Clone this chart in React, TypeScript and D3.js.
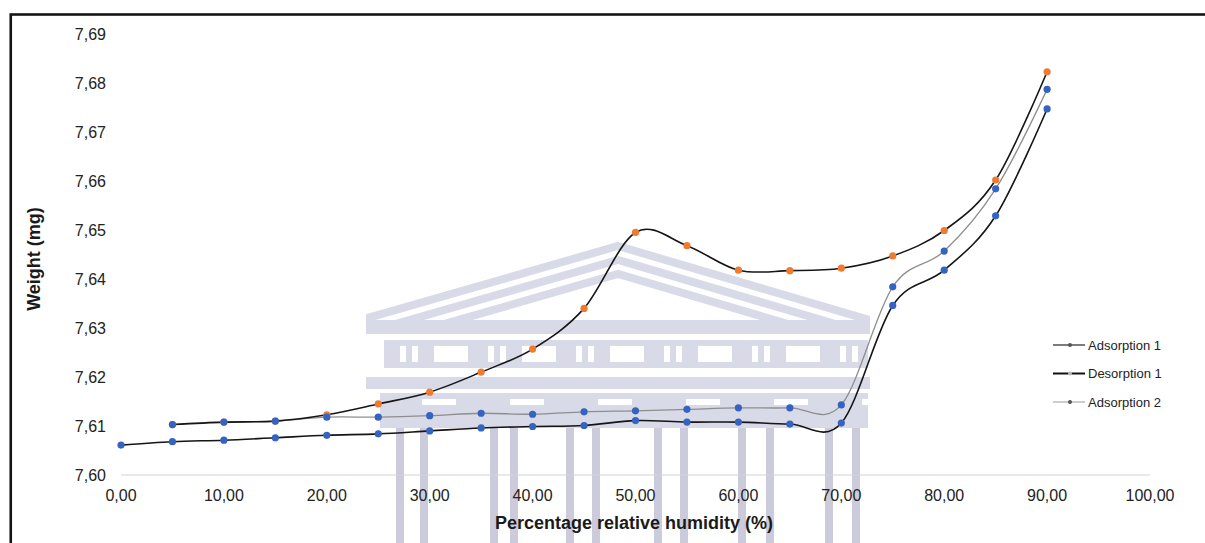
import React from "react";
import * as d3 from "d3";

// Relative humidity steps (%) and sample weights (mg)
const adsorptionHumidity = [0, 5, 10, 15, 20, 25, 30, 35, 40, 45, 50, 55, 60, 65, 70, 75, 80, 85, 90];
const adsorption1 = [
  7.6061, 7.6068, 7.6071, 7.6076, 7.6081, 7.6084, 7.609, 7.6096, 7.6099, 7.6101,
  7.6111, 7.6108, 7.6108, 7.6104, 7.6106, 7.6346, 7.6418, 7.6529, 7.6747,
];

const desorptionHumidity = [90, 85, 80, 75, 70, 65, 60, 55, 50, 45, 40, 35, 30, 25, 20, 15, 10, 5];
const desorption1 = [
  7.6823, 7.6602, 7.6499, 7.6447, 7.6422, 7.6417, 7.6418, 7.6468, 7.6495, 7.634,
  7.6257, 7.621, 7.6169, 7.6145, 7.6123, 7.611, 7.6108, 7.6103,
];

const adsorption2Humidity = [5, 10, 15, 20, 25, 30, 35, 40, 45, 50, 55, 60, 65, 70, 75, 80, 85, 90];
const adsorption2 = [
  7.6103, 7.6108, 7.611, 7.6118, 7.6118, 7.6121, 7.6126, 7.6124, 7.6129, 7.6131,
  7.6134, 7.6137, 7.6137, 7.6143, 7.6384, 7.6457, 7.6584, 7.6787,
];

const xTicks = [0, 10, 20, 30, 40, 50, 60, 70, 80, 90, 100];
const yTicks = [7.6, 7.61, 7.62, 7.63, 7.64, 7.65, 7.66, 7.67, 7.68, 7.69];

const seriesNames = ["Adsorption 1", "Desorption 1", "Adsorption 2"];

const W = 1205;
const H = 543;
const FONT = "'Liberation Sans', Arial, Helvetica, sans-serif";

const BLUE = "#3563c2";
const ORANGE = "#ef7b30";

const commaLocale = d3.formatLocale({ decimal: ",", thousands: ".", grouping: [3], currency: ["", ""] });
const fmt2 = commaLocale.format(".2f");

const x = d3.scaleLinear().domain([0, 100]).range([121, 1150]);
const y = d3.scaleLinear().domain([7.6, 7.69]).range([475, 34]);

type Pt = { h: number; w: number };
const zip = (hs: number[], ws: number[]): Pt[] => hs.map((h, i) => ({ h, w: ws[i] }));

const smooth = d3
  .line<Pt>()
  .x((d) => x(d.h))
  .y((d) => y(d.w))
  .curve(d3.curveCatmullRom.alpha(0));

// Faint university-building emblem behind the plot
function Emblem() {
  const fill = "#d9dae8";
  const col = "#cbcbdc";
  const apexX = 618;
  const left = 366;
  const right = 870;
  const baseY = 320;
  const stripes = [0, 14, 28];
  const windowGroups = d3.range(0, 6).map((i) => 392 + i * 88);
  const columnPairs = [
    [396, 420],
    [490, 510],
    [566, 592],
    [654, 680],
    [738, 766],
    [825, 852],
  ];
  return (
    <g>
      <clipPath id="roofClip">
        <rect x={left} y={200} width={right - left} height={baseY - 200} />
      </clipPath>
      <g clipPath="url(#roofClip)">
        {stripes.map((o) => (
          <polyline
            key={o}
            points={`${left - 40},${baseY + o + 10} ${apexX},${246 + o} ${right + 40},${baseY + o + 12}`}
            fill="none"
            stroke={fill}
            strokeWidth={8}
          />
        ))}
      </g>
      <rect x={left} y={320} width={right - left} height={14} fill={fill} />
      <rect x={384} y={340} width={484} height={28} fill={fill} />
      {windowGroups.map((gx, i) => (
        <g key={i} fill="#ffffff">
          <rect x={gx + 8} y={346} width={6} height={16} />
          <rect x={gx + 20} y={346} width={6} height={16} />
          {i < 5 && <rect x={gx + 42} y={346} width={34} height={16} />}
        </g>
      ))}
      <rect x={left} y={377} width={right - left} height={12} fill={fill} />
      <rect x={380} y={393} width={488} height={35} fill={fill} />
      {windowGroups.map((gx, i) => (
        <rect key={i} x={gx + 30} y={399} width={34} height={6} fill="#ffffff" />
      ))}
      {columnPairs.map(([a, b], i) => (
        <g key={i} fill={col}>
          <rect x={a} y={428} width={8} height={H - 428} />
          <rect x={b} y={428} width={8} height={H - 428} />
        </g>
      ))}
    </g>
  );
}

export default function App() {
  const ads1 = zip(adsorptionHumidity, adsorption1);
  const des1 = zip(desorptionHumidity, desorption1);
  const ads2 = zip(adsorption2Humidity, adsorption2);

  const legendRows = [
    { name: seriesNames[0], line: "#444", lw: 1.4, dot: "#555" },
    { name: seriesNames[1], line: "#111", lw: 2, dot: "#bbb" },
    { name: seriesNames[2], line: "#aaa", lw: 1.2, dot: "#555" },
  ];

  return (
    <svg
      width={W}
      height={H}
      viewBox={`0 0 ${W} ${H}`}
      style={{ position: "absolute", left: 0, top: 0, background: "#fff" }}
      fontFamily={FONT}
    >
      <rect x={0} y={0} width={W} height={H} fill="#fff" />
      <Emblem />

      {/* frame */}
      <rect x={10.75} y={14.5} width={W + 20} height={H + 20} fill="none" stroke="#151515" strokeWidth={2.6} />

      {/* horizontal axis */}
      <line x1={x(0)} x2={x(100)} y1={y(7.6)} y2={y(7.6)} stroke="#d4d4d4" strokeWidth={1.2} />

      {yTicks.map((t) => (
        <text key={t} x={106} y={y(t)} dy="0.35em" textAnchor="end" fontSize={16} fill="#222">
          {fmt2(t)}
        </text>
      ))}
      {xTicks.map((t) => (
        <text key={t} x={x(t)} y={500.5} textAnchor="middle" fontSize={16} fill="#222">
          {fmt2(t)}
        </text>
      ))}

      <text x={634} y={529} textAnchor="middle" fontSize={18} fontWeight="bold" fill="#1a1a1a">
        Percentage relative humidity (%)
      </text>
      <text
        transform={`translate(40,259) rotate(-90)`}
        textAnchor="middle"
        fontSize={18}
        fontWeight="bold"
        fill="#1a1a1a"
      >
        Weight (mg)
      </text>

      {/* curves */}
      <path d={smooth(ads2) ?? ""} fill="none" stroke="#8e8e8e" strokeWidth={1.3} />
      <path d={smooth(des1) ?? ""} fill="none" stroke="#151515" strokeWidth={1.6} />
      <path d={smooth(ads1) ?? ""} fill="none" stroke="#151515" strokeWidth={1.6} />

      {/* markers */}
      {des1.map((d, i) => (
        <circle key={`d${i}`} cx={x(d.h)} cy={y(d.w)} r={3.6} fill={ORANGE} />
      ))}
      {ads2.map((d, i) => (
        <circle key={`b${i}`} cx={x(d.h)} cy={y(d.w)} r={3.6} fill={BLUE} />
      ))}
      {ads1.map((d, i) => (
        <circle key={`a${i}`} cx={x(d.h)} cy={y(d.w)} r={3.6} fill={BLUE} />
      ))}

      {/* legend */}
      {legendRows.map((r, i) => {
        const ly = 345 + i * 28.5;
        return (
          <g key={r.name}>
            <line x1={1053} x2={1085} y1={ly} y2={ly} stroke={r.line} strokeWidth={r.lw} />
            <circle cx={1070} cy={ly} r={2} fill={r.dot} />
            <text x={1088} y={ly} dy="0.35em" fontSize={13} fill="#222">
              {r.name}
            </text>
          </g>
        );
      })}
    </svg>
  );
}
